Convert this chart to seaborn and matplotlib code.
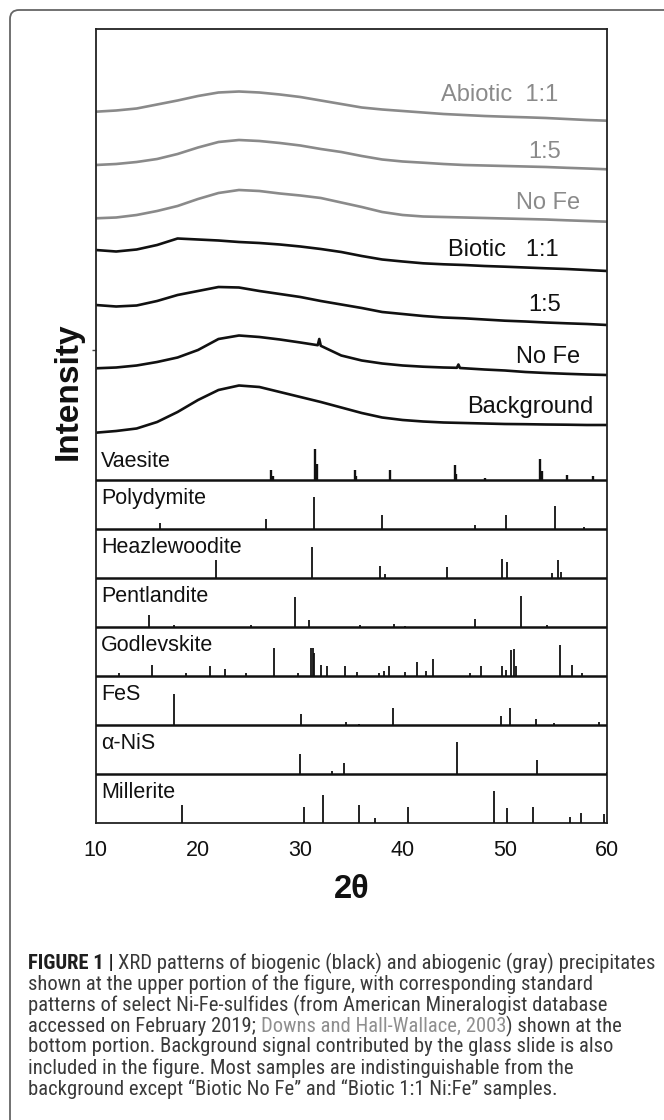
import numpy as np
import pandas as pd
import matplotlib
matplotlib.use("Agg")
import matplotlib.pyplot as plt
from matplotlib.patches import FancyBboxPatch
from matplotlib.transforms import IdentityTransform
from matplotlib import font_manager
import seaborn as sns

# ---------------- data ----------------
two_theta = [10, 12, 14, 16, 18, 20, 22, 24, 26, 28, 30, 32, 34, 36, 38, 40,
             42, 44, 46, 48, 50, 52, 54, 56, 58, 60]

abiotic_11 = [9.0, 10.2, 12.2, 16.2, 20.2, 24.7, 28.2, 29.2, 28.2, 26.2, 23.7, 20.2, 16.7,
              13.2, 11.2, 9.7, 8.2, 6.7, 5.7, 4.7, 4.0, 3.4, 2.7, 1.7, 0.7, 0.0]
abiotic_15 = [4.3, 5.3, 7.3, 10.3, 15.3, 21.8, 27.3, 29.3, 28.3, 26.3, 23.8, 20.3, 17.3,
              13.3, 9.8, 7.8, 6.6, 5.3, 4.3, 3.8, 3.3, 2.8, 2.3, 1.5, 0.8, 0.0]
abiotic_nofe = [3.4, 4.2, 6.7, 10.7, 15.7, 22.7, 28.7, 31.7, 30.7, 28.2, 26.2, 23.7, 19.2,
                14.7, 9.7, 6.7, 5.2, 4.7, 4.2, 3.7, 3.2, 2.7, 2.2, 1.4, 0.7, 0.0]
biotic_11 = [21.0, 19.5, 21.5, 26.0, 32.5, 31.5, 30.5, 29.0, 28.0, 26.5, 24.5, 22.0, 19.0,
             15.0, 11.5, 9.5, 7.7, 6.7, 6.0, 5.0, 4.3, 3.5, 2.7, 2.0, 1.0, 0.0]
biotic_15 = [20.0, 18.5, 19.5, 24.0, 30.0, 34.0, 38.0, 37.5, 34.0, 31.0, 28.0, 24.0, 20.5,
             17.0, 13.0, 11.0, 9.0, 7.5, 6.7, 5.5, 4.3, 3.5, 2.5, 1.7, 1.0, 0.0]
two_theta_nofe = [10, 12, 14, 16, 18, 20, 22, 24, 26, 28, 30, 31.7, 31.85, 32.0, 34, 36, 38,
                  40, 42, 44, 45.3, 45.45, 45.6, 48, 50, 52, 54, 56, 58, 60]
biotic_nofe = [6.7, 7.5, 9.5, 13.0, 17.5, 25.0, 36.0, 39.5, 38.0, 35.5, 32.5, 29.8, 36.0, 29.2,
               19.5, 14.5, 11.5, 9.5, 8.3, 7.5, 7.2, 10.5, 7.0, 5.5, 4.5, 3.0, 2.0, 1.2, 0.5, 0.0]
background = [0.0, 1.7, 4.2, 10.7, 20.7, 32.7, 42.7, 47.2, 45.7, 40.7, 35.7, 30.7, 25.2,
              19.7, 15.2, 12.7, 11.2, 10.2, 9.7, 9.2, 8.7, 8.5, 8.2, 8.0, 7.7, 7.7]

trace_names = ["Abiotic  1:1", "1:5", "No Fe", "Biotic   1:1", "1:5", "No Fe", "Background"]

# stick patterns: (2theta, relative intensity)
vaesite_pos = [27.14, 27.3, 31.47, 31.62, 35.3, 35.45, 38.8, 45.1, 45.25, 48.0, 53.46, 53.65, 56.1, 58.65]
vaesite_int = [31, 12, 97, 50, 31, 12, 29, 45, 19, 5, 66, 28, 16, 13]
polydymite_pos = [16.26, 26.65, 31.36, 38.02, 47.06, 50.07, 54.93, 57.72]
polydymite_int = [17, 30, 98, 43, 12, 43, 70, 4]
heazlewoodite_pos = [21.76, 31.13, 37.8, 38.24, 44.34, 49.72, 50.18, 54.63, 55.16, 55.46]
heazlewoodite_int = [56, 95, 38, 13, 33, 57, 49, 15, 56, 17]
pentlandite_pos = [15.25, 17.69, 25.15, 29.52, 30.83, 35.8, 39.11, 40.2, 47.06, 51.53, 54.1]
pentlandite_int = [37, 5, 5, 93, 20, 5, 10, 3, 23, 96, 6]
godlevskite_pos = [12.27, 15.47, 18.85, 21.19, 22.59, 24.73, 27.41, 29.74, 31.02, 31.21, 31.36,
                   32.04, 32.6, 34.4, 35.5, 37.65, 38.21, 38.63, 40.24, 41.41, 42.28, 43.0,
                   46.57, 47.62, 49.72, 50.11, 50.56, 50.86, 51.12, 55.41, 56.54, 57.55]
godlevskite_int = [8, 34, 8, 29, 21, 8, 88, 8, 87, 88, 72, 34, 29, 29, 13, 7, 16, 29, 13, 42,
                   16, 52, 10, 29, 31, 19, 81, 85, 29, 96, 34, 7]
fes_pos = [17.62, 30.11, 34.48, 35.69, 39.04, 49.62, 50.52, 53.08, 54.77, 59.14]
fes_int = [96, 33, 7, 3, 53, 28, 53, 18, 4, 7]
anis_pos = [29.93, 33.13, 34.3, 45.29, 53.12, 59.95]
anis_int = [63, 10, 34, 99, 42, 6]
millerite_pos = [18.44, 30.38, 32.22, 35.76, 37.33, 40.5, 48.9, 50.18, 52.7, 56.31, 57.45, 59.7]
millerite_int = [55, 50, 88, 55, 15, 50, 98, 45, 48, 18, 31, 28]

mineral_names = ["Vaesite", "Polydymite", "Heazlewoodite", "Pentlandite",
                 "Godlevskite", "FeS", "α-NiS", "Millerite"]

x_ticks = [10, 20, 30, 40, 50, 60]

caption_lines = [
    [("FIGURE 1 | ", "bold"), ("XRD patterns of biogenic (black) and abiogenic (gray) precipitates", "body")],
    [("shown at the upper portion of the figure, with corresponding standard", "body")],
    [("patterns of select Ni-Fe-sulfides (from American Mineralogist database", "body")],
    [("accessed on February 2019; ", "body"), ("Downs and Hall-Wallace, 2003", "link"), (") shown at the", "body")],
    [("bottom portion. Background signal contributed by the glass slide is also", "body")],
    [("included in the figure. Most samples are indistinguishable from the", "body")],
    [("background except \u201cBiotic No Fe\u201d and \u201cBiotic 1:1 Ni:Fe\u201d samples.", "body")],
]

# ---------------- style ----------------
sns.set_theme(style="white")
plt.rcParams["font.family"] = ["Liberation Sans", "DejaVu Sans"]

avail = {f.name for f in font_manager.fontManager.ttflist}
cap_family = next((f for f in ["Liberation Sans Narrow", "Roboto Condensed", "Open Sans Condensed",
                               "Liberation Sans"] if f in avail), "DejaVu Sans")

W, H = 664, 1120
fig = plt.figure(figsize=(W / 100, H / 100), dpi=100)
fig.patch.set_facecolor("white")

ax_left, ax_right, ax_top, ax_bottom = 95.7, 607.3, 29.0, 823.0
ax = fig.add_axes([ax_left / W, 1 - ax_bottom / H, (ax_right - ax_left) / W, (ax_bottom - ax_top) / H])
ax.set_xlim(10, 60)
ax.set_ylim(0, ax_bottom - ax_top)

GRAY = "#8a8a8a"
BLACK = "#111111"

traces = [
    (two_theta, abiotic_11, GRAY, 702.3, 55.18, 728),
    (two_theta, abiotic_15, GRAY, 653.7, 55.47, 671),
    (two_theta, abiotic_nofe, GRAY, 601.3, 57.33, 620),
    (two_theta, biotic_11, BLACK, 552.0, 55.28, 573),
    (two_theta, biotic_15, BLACK, 498.0, 55.47, 518),
    (two_theta_nofe, biotic_nofe, BLACK, 448.0, 57.33, 466),
    (two_theta, background, BLACK, 390.3, 58.6, 416),
]
for name, (xs, ys, col, off, lx, ly) in zip(trace_names, traces):
    df = pd.DataFrame({"two_theta": xs, "intensity": np.array(ys) + off})
    sns.lineplot(data=df, x="two_theta", y="intensity", ax=ax, color=col, lw=1.9,
                 estimator=None, sort=True)
    ax.text(lx, ly, name, ha="right", va="center", fontsize=17, color=col)

sticks = [
    (vaesite_pos, vaesite_int), (polydymite_pos, polydymite_int),
    (heazlewoodite_pos, heazlewoodite_int), (pentlandite_pos, pentlandite_int),
    (godlevskite_pos, godlevskite_int), (fes_pos, fes_int),
    (anis_pos, anis_int), (millerite_pos, millerite_int),
]
panel_h = 49.0
scale = 0.32
n = len(sticks)
for i, (name, (pos, inten)) in enumerate(zip(mineral_names, sticks)):
    k = n - 1 - i
    base = panel_h * k + 0.3
    if k > 0:
        ax.axhline(base, color=BLACK, lw=1.8, zorder=3)
    ax.vlines(pos, base, base + np.array(inten) * scale, color=BLACK,
              lw=(1.7 if i == 0 else 1.3), zorder=3)
    ly = base + (18.4 if i == 0 else 30.5)
    ax.text(10.5, ly, name, ha="left", va="center", fontsize=15.5, color=BLACK)

ax.set_xticks(x_ticks)
ax.set_xticklabels([str(t) for t in x_ticks])
ax.set_yticks([473])
ax.set_yticklabels([""])
ax.tick_params(axis="x", direction="inout", length=12, width=1.0, color="#666666",
               labelsize=15.5, pad=6, labelcolor=BLACK)
ax.tick_params(axis="y", direction="out", length=3, width=1.0, color="#444444", left=True)
ax.set_xlabel("")
ax.set_ylabel("")
for sp in ax.spines.values():
    sp.set_color("#222222")
    sp.set_linewidth(1.3)
    sp.set_visible(True)

fig.text(68 / W, 1 - 391 / H, "Intensity", rotation=90, ha="center", va="center",
         fontsize=24, fontweight="bold", color=BLACK)
fig.text(351.5 / W, 1 - 889 / H, "2θ", ha="center", va="center",
         fontsize=23.5, fontweight="bold", color=BLACK)

# outer rounded frame
frame = FancyBboxPatch((10, -20), 720, 1120 - 10 + 20,
                       boxstyle="round,pad=0,rounding_size=9",
                       transform=IdentityTransform(), facecolor="none",
                       edgecolor="#666666", lw=1.3, clip_on=False)
fig.patches.append(frame)

# caption
renderer = fig.canvas.get_renderer()
cap_fam = [cap_family, "DejaVu Sans"]
styles = {
    "bold": dict(family=cap_fam, fontweight="bold", color="#1e1e1e"),
    "body": dict(family=cap_fam, fontweight="normal", color="#3a3a3a"),
    "link": dict(family=cap_fam, fontweight="normal", color="#8f8f8f"),
}


def seg_width(s, size, st):
    t1 = fig.text(0, 0, s + "l", fontsize=size, **styles[st])
    t2 = fig.text(0, 0, "l", fontsize=size, **styles[st])
    w = t1.get_window_extent(renderer).width - t2.get_window_extent(renderer).width
    t1.remove()
    t2.remove()
    return w


base_size = 11.0
line1_w = sum(seg_width(s, base_size, st) for s, st in caption_lines[0])
cap_size = base_size * (624.0 / line1_w)

cap_x0 = 28.0
cap_y0 = 961.5
cap_dy = 20.85
for li, segs in enumerate(caption_lines):
    x = cap_x0
    y = cap_y0 + li * cap_dy
    for s, st in segs:
        fig.text(x / W, 1 - y / H, s, fontsize=cap_size, ha="left", va="center_baseline", **styles[st])
        x += seg_width(s, cap_size, st)

fig.savefig("out.png", dpi=100, facecolor="white")
